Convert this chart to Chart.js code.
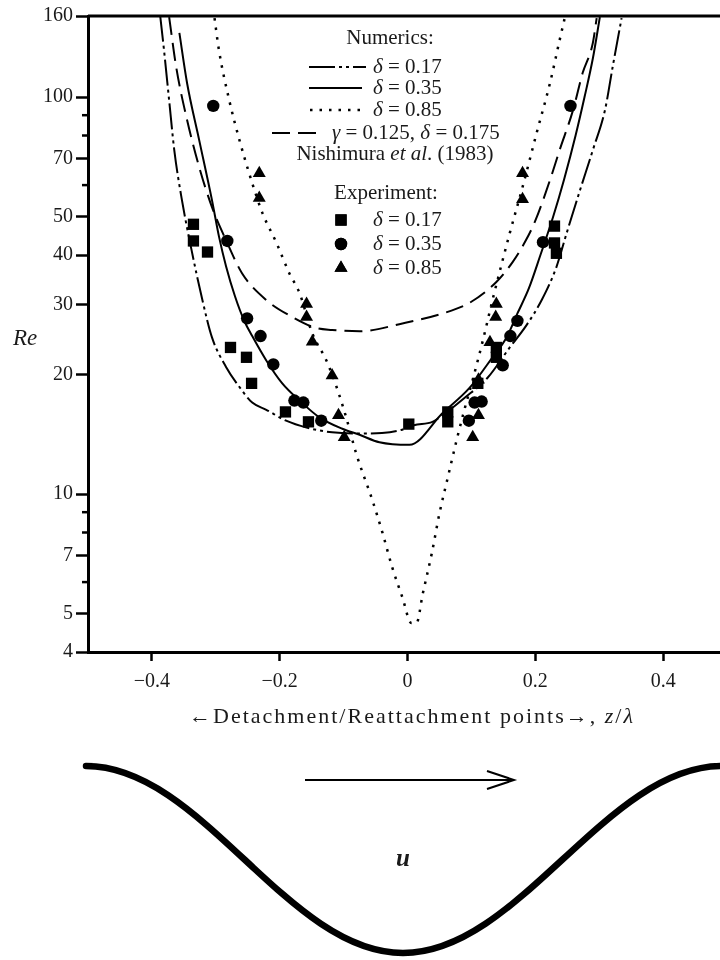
<!DOCTYPE html>
<html>
<head>
<meta charset="utf-8">
<script src="https://cdn.jsdelivr.net/npm/chart.js@4.4.1/dist/chart.umd.min.js"></script>
<style>
  body { margin: 0; background: #fff; }
  #wrap { position: relative; width: 720px; height: 960px; overflow: hidden; }
  #chart { position: absolute; left: 0; top: 0; }
  .lbl { position: absolute; font-family: "Liberation Serif", "Times New Roman", serif; color: #1a1a1a; white-space: nowrap; line-height: 1; }
  #yTitle { left: 13px; top: 326px; font-size: 23px; font-style: italic; }
  #xTitle { left: 0; width: 824px; top: 705px; font-size: 22px; text-align: center; letter-spacing: 2px; }
  #uLabel { left: 396px; top: 845px; font-size: 25px; font-style: italic; font-weight: bold; }
  svg { position: absolute; left: 0; top: 0; }
</style>
</head>
<body>
<div id="wrap">
  <canvas id="chart" width="720" height="960"></canvas>
  <div class="lbl" id="yTitle">Re</div>
  <div class="lbl" id="xTitle">&larr;Detachment/Reattachment points&rarr;, <i>z</i>/<i>&lambda;</i></div>
  <svg width="720" height="960">
    <path d="M 86 766 C 202 766, 287 953, 403 953 C 519 953, 606 766, 722 766" fill="none" stroke="#000" stroke-width="6.5" stroke-linecap="round"/>
    <line x1="305" y1="780" x2="513" y2="780" stroke="#000" stroke-width="2"/>
    <polyline points="487,771 514,780 487,789" fill="none" stroke="#000" stroke-width="2"/>
  </svg>
  <div class="lbl" id="uLabel">u</div>
</div>
<script>
// axis ticks
const xTicks = [-0.4, -0.2, 0, 0.2, 0.4];
const yMajor = [4, 5, 7, 10, 20, 30, 40, 50, 70, 100, 160];
const yMinor = [6, 8, 9, 60, 80, 90];

// numerics, delta = 0.17 (dash-dot)
const num017X = [-0.387, -0.381, -0.373, -0.365, -0.353, -0.338, -0.321, -0.306, -0.284, -0.263, -0.243, -0.221, -0.190, -0.158, -0.118, -0.075, -0.040, -0.010, 0.010, 0.039, 0.055, 0.090, 0.125, 0.160, 0.186, 0.210, 0.233, 0.249, 0.270, 0.290, 0.309, 0.321, 0.335];
const num017Re = [160, 131, 98, 73.5, 55, 41.2, 30.8, 24.8, 20.9, 18.6, 17.0, 16.3, 15.3, 14.7, 14.3, 14.2, 14.25, 14.5, 14.9, 15.2, 15.8, 17.5, 19.6, 23.4, 26.6, 30.8, 37.3, 45.4, 58.3, 73.5, 92.7, 119, 158];

// numerics, delta = 0.35 (solid)
const num035X = [-0.357, -0.345, -0.326, -0.306, -0.295, -0.284, -0.270, -0.255, -0.243, -0.221, -0.196, -0.169, -0.138, -0.102, -0.075, -0.044, 0.003, 0.055, 0.097, 0.133, 0.155, 0.172, 0.190, 0.208, 0.228, 0.245, 0.263, 0.277, 0.290, 0.301];
const num035Re = [145, 108.5, 77.9, 55, 44.5, 37.5, 31.5, 27.2, 25.0, 21.7, 19.0, 17.2, 15.6, 14.6, 14.1, 13.5, 13.3, 16.0, 18.5, 22.1, 24.8, 28.5, 33, 40, 50, 62, 80, 100, 125, 159];

// numerics, delta = 0.85 (dotted)
const num085X = [-0.302, -0.295, -0.279, -0.263, -0.243, -0.227, -0.205, -0.185, -0.169, -0.149, -0.127, -0.111, -0.096, -0.080, -0.055, -0.039, -0.024, -0.008, 0.006, 0.014, 0.024, 0.038, 0.050, 0.063, 0.077, 0.089, 0.102, 0.118, 0.133, 0.160, 0.180, 0.202, 0.223, 0.238, 0.246];
const num085Re = [158, 131, 98.2, 77.9, 60.7, 51, 42.9, 36, 32.1, 25.4, 21.7, 18.6, 15.6, 12.6, 9.65, 7.97, 6.54, 5.49, 4.73, 4.73, 5.62, 7.09, 8.94, 11.0, 13.7, 16.3, 19.4, 24.4, 30.8, 45.4, 59.3, 81.1, 108.5, 139, 158];

// Nishimura et al. (1983), gamma = 0.125, delta = 0.175 (long dash)
const nishX = [-0.373, -0.362, -0.346, -0.326, -0.306, -0.284, -0.259, -0.221, -0.180, -0.143, -0.118, -0.075, -0.008, 0.055, 0.097, 0.139, 0.165, 0.185, 0.200, 0.223, 0.238, 0.259, 0.274, 0.290, 0.296];
const nishRe = [159, 119, 89, 66.6, 52.8, 43.6, 36, 30.8, 27.9, 26.2, 25.9, 25.7, 26.9, 28.5, 30.3, 34.2, 38.5, 43.5, 48.8, 61.8, 73.5, 92.7, 114.9, 136.8, 158];

// experiment
const exp017X = [-0.335, -0.335, -0.313, -0.277, -0.252, -0.244, -0.191, -0.155, 0.002, 0.063, 0.063, 0.110, 0.139, 0.139, 0.230, 0.230, 0.233];
const exp017Re = [47.8, 43.4, 40.7, 23.4, 22.1, 19.0, 16.1, 15.2, 15.0, 16.1, 15.2, 19.0, 23.4, 22.1, 47.3, 42.9, 40.4];
const exp035X = [-0.304, -0.282, -0.251, -0.230, -0.210, -0.177, -0.163, -0.135, 0.255, 0.212, 0.172, 0.161, 0.149, 0.105, 0.116, 0.096];
const exp035Re = [95, 43.4, 27.7, 25.0, 21.2, 17.2, 17.0, 15.3, 95, 43.1, 27.3, 25.0, 21.1, 17.0, 17.1, 15.3];
const exp085X = [-0.232, -0.232, -0.158, -0.158, -0.149, -0.118, -0.108, -0.099, 0.180, 0.180, 0.139, 0.138, 0.129, 0.111, 0.111, 0.102];
const exp085Re = [64.3, 55.7, 30.1, 27.9, 24.2, 19.9, 15.8, 13.9, 64.3, 55.3, 30.1, 27.9, 24.1, 19.4, 15.8, 13.9];

const SERIF = '"Liberation Serif", "Times New Roman", serif';
const INK = '#1a1a1a';

function pts(xs, ys) {
  return xs.map((x, i) => ({ x: x, y: ys[i] }));
}

function curve(label, xs, ys, dash, width) {
  return {
    label,
    data: pts(xs, ys),
    showLine: true,
    borderColor: '#000',
    borderWidth: width,
    borderDash: dash,
    borderCapStyle: 'butt',
    pointRadius: 0,
    cubicInterpolationMode: 'monotone',
    fill: false,
    order: 1
  };
}

function markers(label, xs, ys, style, r) {
  return {
    label,
    data: pts(xs, ys),
    showLine: false,
    pointStyle: style,
    pointRadius: r,
    backgroundColor: '#000',
    borderColor: '#000',
    borderWidth: 0,
    order: 0
  };
}

// rich text: list of [text, italic]
function drawRich(ctx, segs, x, y, size, align) {
  let w = 0;
  segs.forEach(s => {
    ctx.font = (s[1] ? 'italic ' : '') + size + 'px ' + SERIF;
    w += ctx.measureText(s[0]).width;
  });
  let cx = align === 'center' ? x - w / 2 : x;
  segs.forEach(s => {
    ctx.font = (s[1] ? 'italic ' : '') + size + 'px ' + SERIF;
    ctx.fillText(s[0], cx, y);
    cx += ctx.measureText(s[0]).width;
  });
}

const legendLines = [
  { ds: 0, y: 67, x1: 309, x2: 366, tx: 373, segs: [['δ', true], [' = 0.17', false]] },
  { ds: 1, y: 88, x1: 309, x2: 362, tx: 373, segs: [['δ', true], [' = 0.35', false]] },
  { ds: 2, y: 110, x1: 310, x2: 362, tx: 373, segs: [['δ', true], [' = 0.85', false]] },
  { ds: 3, y: 133, x1: 272, x2: 323, tx: 332, segs: [['γ', true], [' = 0.125, ', false], ['δ', true], [' = 0.175', false]] }
];
const legendMarks = [
  { ds: 4, y: 220, segs: [['δ', true], [' = 0.17', false]] },
  { ds: 5, y: 244, segs: [['δ', true], [' = 0.35', false]] },
  { ds: 6, y: 268, segs: [['δ', true], [' = 0.85', false]] }
];

const framePlugin = {
  id: 'frame',
  afterDraw(chart) {
    const ctx = chart.ctx;
    const ys = chart.scales.y;
    const area = chart.chartArea;
    ctx.save();
    ctx.strokeStyle = '#000';
    // minor ticks on the Re axis
    ctx.lineWidth = 2.5;
    yMinor.forEach(v => {
      const py = ys.getPixelForValue(v);
      ctx.beginPath();
      ctx.moveTo(ys.right - 6, py);
      ctx.lineTo(ys.right, py);
      ctx.stroke();
    });
    // top frame line
    ctx.lineWidth = 3;
    ctx.beginPath();
    ctx.moveTo(area.left, area.top);
    ctx.lineTo(area.right, area.top);
    ctx.stroke();
    ctx.restore();
  }
};

const legendPlugin = {
  id: 'paperLegend',
  afterDraw(chart) {
    const ctx = chart.ctx;
    const sets = chart.data.datasets;
    ctx.save();
    ctx.fillStyle = INK;
    ctx.textBaseline = 'middle';
    drawRich(ctx, [['Numerics:', false]], 390, 38, 21, 'center');
    legendLines.forEach(item => {
      const d = sets[item.ds];
      ctx.strokeStyle = '#000';
      ctx.lineWidth = d.borderWidth;
      ctx.setLineDash(d.borderDash || []);
      ctx.beginPath();
      ctx.moveTo(item.x1, item.y);
      ctx.lineTo(item.x2, item.y);
      ctx.stroke();
      ctx.setLineDash([]);
      drawRich(ctx, item.segs, item.tx, item.y, 21, 'left');
    });
    drawRich(ctx, [['Nishimura ', false], ['et al', true], ['. (1983)', false]], 395, 154, 21, 'center');
    drawRich(ctx, [['Experiment:', false]], 386, 193, 21, 'center');
    legendMarks.forEach(item => {
      const d = sets[item.ds];
      ctx.fillStyle = '#000';
      Chart.helpers.drawPoint(ctx, { pointStyle: d.pointStyle, radius: d.pointRadius, borderWidth: 0, rotation: 0 }, 341, item.y);
      ctx.fill();
      ctx.fillStyle = INK;
      drawRich(ctx, item.segs, 373, item.y, 21, 'left');
    });
    ctx.restore();
  }
};

new Chart(document.getElementById('chart'), {
  type: 'scatter',
  data: {
    datasets: [
      curve('Numerics δ = 0.17', num017X, num017Re, [26, 4, 3, 4, 3, 4], 2),
      curve('Numerics δ = 0.35', num035X, num035Re, [], 2),
      curve('Numerics δ = 0.85', num085X, num085Re, [2.5, 7], 2.5),
      curve('γ = 0.125, δ = 0.175 Nishimura et al. (1983)', nishX, nishRe, [18, 8], 2),
      markers('Experiment δ = 0.17', exp017X, exp017Re, 'rect', 8),
      markers('Experiment δ = 0.35', exp035X, exp035Re, 'circle', 6.2),
      markers('Experiment δ = 0.85', exp085X, exp085Re, 'triangle', 7.5)
    ]
  },
  options: {
    responsive: false,
    animation: false,
    devicePixelRatio: 1,
    events: [],
    layout: { autoPadding: false, padding: { left: 0, top: 16, right: 0, bottom: 248 } },
    plugins: {
      legend: { display: false },
      tooltip: { enabled: false },
      title: { display: false }
    },
    scales: {
      x: {
        type: 'linear',
        min: -0.5,
        max: 0.489,
        afterBuildTicks: s => { s.ticks = xTicks.map(v => ({ value: v })); },
        afterFit: s => { s.height = 60; },
        border: { display: true, color: '#000', width: 3 },
        grid: { display: true, drawOnChartArea: false, drawTicks: true, tickLength: 9, tickWidth: 2.5, tickColor: '#000' },
        ticks: {
          color: INK,
          padding: 9,
          font: { family: SERIF, size: 20 },
          callback: v => (v < 0 ? '\u2212' + Math.abs(v) : String(v))
        }
      },
      y: {
        type: 'logarithmic',
        min: 4,
        max: 160,
        afterBuildTicks: s => { s.ticks = yMajor.map(v => ({ value: v })); },
        afterFit: s => { s.width = 88; },
        border: { display: true, color: '#000', width: 3 },
        grid: { display: true, drawOnChartArea: false, drawTicks: true, tickLength: 12, tickWidth: 2.5, tickColor: '#000' },
        ticks: {
          color: INK,
          padding: 3,
          font: { family: SERIF, size: 20 },
          callback: v => String(v)
        }
      }
    }
  },
  plugins: [framePlugin, legendPlugin]
});
</script>
</body>
</html>
